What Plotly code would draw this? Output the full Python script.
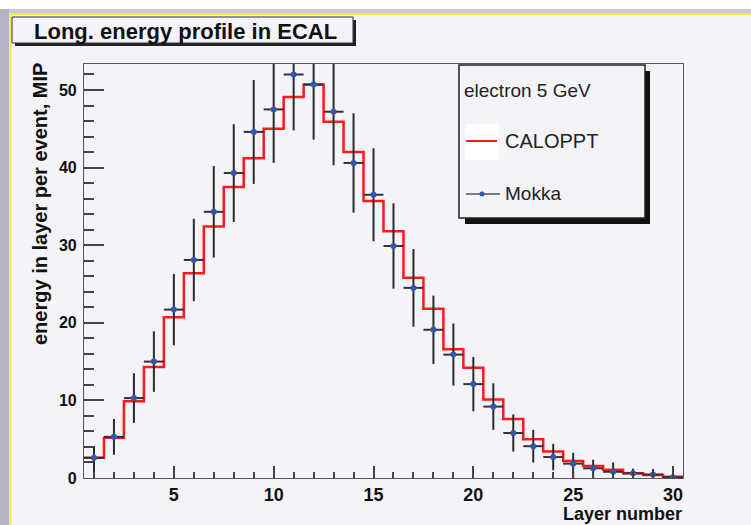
import numpy as np
import plotly.graph_objects as go

# ---------------- data ----------------
layers = list(range(1, 31))
caloppt = [2.6, 5.2, 9.9, 14.3, 20.7, 26.4, 32.4, 37.5, 41.2, 45.0,
           49.1, 50.7, 45.9, 42.0, 35.7, 31.8, 25.8, 21.8, 16.6, 14.2,
           10.1, 7.6, 5.0, 3.4, 2.2, 1.55, 1.05, 0.6, 0.4, 0.15]
mokka = [2.6, 5.3, 10.3, 15.0, 21.7, 28.1, 34.3, 39.3, 44.6, 47.5,
         52.0, 50.7, 47.2, 40.6, 36.5, 29.9, 24.5, 19.1, 15.9, 12.1,
         9.2, 5.8, 4.1, 2.7, 1.85, 1.25, 0.8, 0.6, 0.45, 0.1]
mokka_err_up = [1.5, 2.3, 3.2, 3.9, 4.6, 5.3, 5.9, 6.3, 6.7, 6.9,
                7.2, 7.1, 6.9, 6.4, 6.0, 5.5, 5.0, 4.4, 4.0, 3.5,
                3.0, 2.4, 2.1, 1.7, 1.4, 1.1, 1.2, 0.6, 0.7, 1.3]
mokka_err_down = [2.6, 2.3, 3.2, 3.9, 4.6, 5.3, 5.9, 6.3, 6.7, 6.9,
                  7.2, 7.1, 6.9, 6.4, 6.0, 5.5, 5.0, 4.4, 4.0, 3.5,
                  3.0, 2.4, 2.1, 1.7, 1.85, 1.25, 0.8, 0.6, 0.45, 0.1]
bin_half_width = [0.5] * 30
x_range = [0.5, 30.5]
y_range = [0, 53.35]
x_tickvals = [5, 10, 15, 20, 25, 30]
y_tickvals = [0, 10, 20, 30, 40, 50]

# ---------------- geometry ----------------
W, H = 751, 525
L, R, T, B = 84, 683, 64, 478
BG = "#f4f3f7"
FONT = "Liberation Sans, Arial, Helvetica, sans-serif"


def px(x):
    return (x - L) / (R - L)


def py(y):
    return (B - y) / (B - T)


# step histogram edges
edges = np.array(layers, dtype=float) - 0.5
step_x = list(edges) + [edges[-1] + 1.0]
step_y = list(caloppt) + [caloppt[-1]]

fig = go.Figure()
fig.add_trace(go.Scatter(
    x=step_x, y=step_y, mode="lines", name="CALOPPT",
    line=dict(shape="hv", color="#ff1a1a", width=2.5),
    showlegend=False, hoverinfo="skip"))
fig.add_trace(go.Scatter(
    x=layers, y=mokka, mode="markers", name="Mokka",
    marker=dict(size=6, color="#3555b5"),
    error_x=dict(type="data", array=bin_half_width, symmetric=True,
                 width=0, thickness=2, color="#333333"),
    error_y=dict(type="data", array=mokka_err_up, arrayminus=mokka_err_down,
                 symmetric=False, width=0, thickness=2, color="#2a2a2a"),
    showlegend=False))

shapes = []
# outer frame decorations
shapes.append(dict(type="rect", xref="paper", yref="paper",
                   x0=px(0), x1=px(W), y0=py(13), y1=py(9),
                   fillcolor="#c9c8d8", line=dict(width=0), layer="below"))
shapes.append(dict(type="rect", xref="paper", yref="paper",
                   x0=px(0), x1=px(W), y0=py(9), y1=py(0),
                   fillcolor="#ffffff", line=dict(width=0), layer="below"))
shapes.append(dict(type="rect", xref="paper", yref="paper",
                   x0=px(0), x1=px(9), y0=py(H), y1=py(9),
                   fillcolor="#b4b3c4", line=dict(width=0), layer="below"))
shapes.append(dict(type="line", xref="paper", yref="paper",
                   x0=px(10.5), x1=px(10.5), y0=py(H), y1=py(14),
                   line=dict(color="#f2ea3a", width=2), layer="below"))
shapes.append(dict(type="line", xref="paper", yref="paper",
                   x0=px(10), x1=px(W), y0=py(14), y1=py(14),
                   line=dict(color="#f2ea3a", width=2), layer="below"))

# title box with shadow
shapes.append(dict(type="rect", xref="paper", yref="paper",
                   x0=px(15), x1=px(356), y0=py(46), y1=py(20),
                   fillcolor="#222222", line=dict(width=0)))
shapes.append(dict(type="rect", xref="paper", yref="paper",
                   x0=px(12), x1=px(353), y0=py(43), y1=py(17),
                   fillcolor=BG, line=dict(color="#333333", width=1)))

# legend box with shadow
shapes.append(dict(type="rect", xref="paper", yref="paper",
                   x0=px(465), x1=px(650), y0=py(224), y1=py(71),
                   fillcolor="#111111", line=dict(width=0)))
shapes.append(dict(type="rect", xref="paper", yref="paper",
                   x0=px(459), x1=px(645), y0=py(218), y1=py(65),
                   fillcolor=BG, line=dict(color="#222222", width=1.5)))
shapes.append(dict(type="rect", xref="paper", yref="paper",
                   x0=px(465), x1=px(499), y0=py(160), y1=py(124),
                   fillcolor="#ffffff", line=dict(width=0)))
shapes.append(dict(type="line", xref="paper", yref="paper",
                   x0=px(466), x1=px(497), y0=py(141), y1=py(141),
                   line=dict(color="#ff1a1a", width=2)))
shapes.append(dict(type="line", xref="paper", yref="paper",
                   x0=px(466), x1=px(500), y0=py(194), y1=py(194),
                   line=dict(color="#555555", width=1.5)))
shapes.append(dict(type="circle", xref="paper", yref="paper",
                   x0=px(479.5), x1=px(484.5), y0=py(196.5), y1=py(191.5),
                   fillcolor="#3555b5", line=dict(width=0)))

annotations = [
    dict(text="<b>Long. energy profile in ECAL</b>", xref="paper", yref="paper",
         x=px(185), y=py(31), xanchor="center", yanchor="middle", showarrow=False,
         font=dict(family=FONT, size=22, color="#111111")),
    dict(text="electron 5 GeV", xref="paper", yref="paper",
         x=px(462), y=py(91), xanchor="left", yanchor="middle", showarrow=False,
         font=dict(family=FONT, size=19, color="#222222")),
    dict(text="CALOPPT", xref="paper", yref="paper",
         x=px(503), y=py(141), xanchor="left", yanchor="middle", showarrow=False,
         font=dict(family=FONT, size=20, color="#222222")),
    dict(text="Mokka", xref="paper", yref="paper",
         x=px(503), y=py(193), xanchor="left", yanchor="middle", showarrow=False,
         font=dict(family=FONT, size=19, color="#222222")),
    dict(text="<b>Layer number</b>", xref="paper", yref="paper",
         x=px(684), y=py(514), xanchor="right", yanchor="middle", showarrow=False,
         font=dict(family=FONT, size=18, color="#111111")),
    dict(text="<b>energy in layer per event, MIP</b>", xref="paper", yref="paper",
         x=px(40), y=py(61), xanchor="center", yanchor="top", textangle=-90,
         showarrow=False, font=dict(family=FONT, size=20, color="#111111")),
]

axis_common = dict(showline=True, mirror=True, linecolor="#555555", linewidth=1.2,
                   showgrid=False, zeroline=False, ticks="inside",
                   tickcolor="#444444", tickwidth=1.5)

fig.update_layout(
    width=W, height=H,
    margin=dict(l=L, r=W - R, t=T, b=H - B, pad=0),
    paper_bgcolor=BG, plot_bgcolor=BG,
    shapes=shapes, annotations=annotations,
    showlegend=False,
    xaxis=dict(range=x_range, tickvals=x_tickvals, ticklen=12,
               tickfont=dict(family=FONT, size=18, color="#111111", weight="bold"),
               ticklabelstandoff=0,
               minor=dict(dtick=1, ticklen=6, tickcolor="#444444", ticks="inside", tickwidth=1.5),
               **axis_common),
    yaxis=dict(range=y_range, tickvals=y_tickvals, ticklen=20,
               tickfont=dict(family=FONT, size=16, color="#111111", weight="bold"),
               ticklabelstandoff=3,
               minor=dict(dtick=2, ticklen=10, tickcolor="#444444", ticks="inside", tickwidth=1.5),
               **axis_common),
)

fig.write_html("out.html", config={"displayModeBar": False},
               post_script="document.body.style.margin='0';document.body.style.background='%s';" % BG)
